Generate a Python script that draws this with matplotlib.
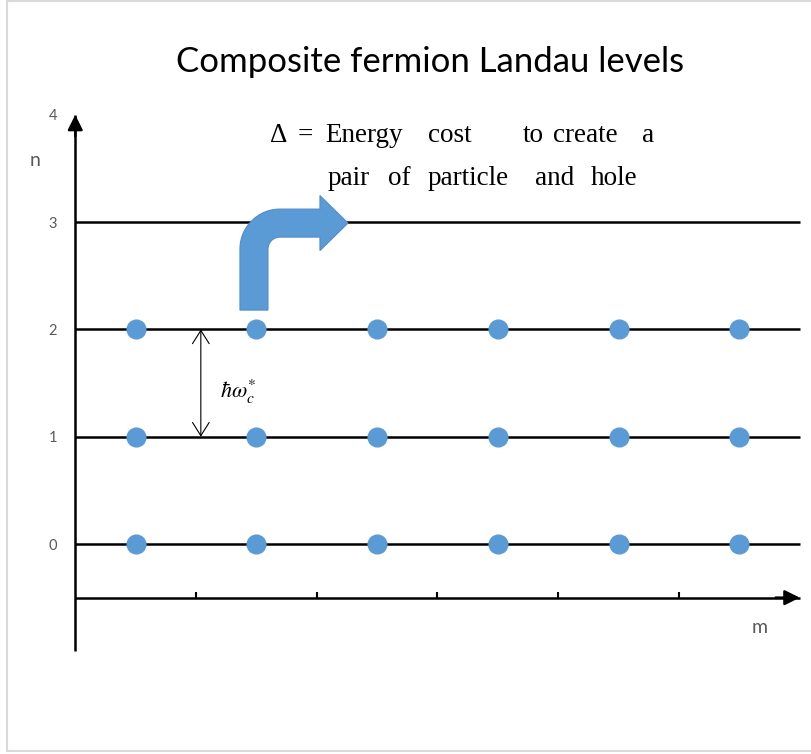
import matplotlib
matplotlib.use("Agg")
import matplotlib.pyplot as plt
from matplotlib.path import Path
from matplotlib.patches import PathPatch
from matplotlib.lines import Line2D
import matplotlib.transforms as mtransforms

# data
levels = [0, 1, 2, 3]
filled_levels = [0, 1, 2]
m_states = [0.5, 1.5, 2.5, 3.5, 4.5, 5.5]
m_ticks = [1, 2, 3, 4, 5]
n_ticks = [0, 1, 2, 3, 4]
n_tick_labels = ['0', '1', '2', '3', '4']
gap_m = 1.04
title = 'Composite fermion Landau levels'
note_1 = ['\u0394', '=', 'Energy', 'cost', 'to', 'create', 'a']
note_1_m = [1.61, 1.845, 2.07, 2.92, 3.71, 3.955, 4.69]
note_2 = ['pair', 'of', 'particle', 'and', 'hole']
note_2_m = [2.09, 2.59, 2.92, 3.81, 4.27]

dot_color = '#5b9bd5'
label_color = '#595959'

fig = plt.figure(figsize=(8.12, 7.54), dpi=100, facecolor='white')
ax = fig.add_axes([0, 0, 1, 1])
ax.patch.set_visible(False)
ax.set_xlim(-75.25 / 120.75, (812 - 75.25) / 120.75)
ax.set_ylim((544 - 754) / 107.3, 544 / 107.3)

# axes as spines through the data origin
for side in ['top', 'right']:
    ax.spines[side].set_visible(False)
ax.spines['left'].set_position(('data', 0))
ax.spines['left'].set_bounds(-1, 4)
ax.spines['bottom'].set_position(('data', -0.5))
ax.spines['bottom'].set_bounds(0, 6)
for side in ['left', 'bottom']:
    ax.spines[side].set_linewidth(1.8)
    ax.spines[side].set_capstyle('butt')

ax.set_yticks(n_ticks)
ax.set_yticklabels(n_tick_labels, family='Lato', fontsize=10.5, color=label_color)
ax.tick_params(axis='y', length=0, pad=13)
ax.set_xticks(m_ticks)
ax.set_xticklabels([])
ax.tick_params(axis='x', direction='in', length=4, width=1.5, color='black')

# arrow heads on the axes
head = dict(arrowstyle='-|>,head_length=0.6,head_width=0.3', color='black',
            lw=1.8, shrinkA=0, shrinkB=0, mutation_scale=15)
ax.annotate('', xy=(0, 4), xytext=(0, 3.8), arrowprops=head)
ax.annotate('', xy=(6, -0.5), xytext=(5.8, -0.5), arrowprops=head)

# Landau levels and filled states
ax.hlines(levels, 0, 6, color='black', lw=1.8, zorder=2)
for lv in filled_levels:
    ax.plot(m_states, [lv] * len(m_states), 'o', ms=13.5, color=dot_color,
            mec=dot_color, zorder=4)

# cyclotron gap
ax.annotate('', xy=(gap_m, 2), xytext=(gap_m, 1),
            arrowprops=dict(arrowstyle='<->,head_length=0.95,head_width=0.6',
                            lw=0.8, color='black', shrinkA=0, shrinkB=0,
                            mutation_scale=10))
ax.text(gap_m + 0.16, 1.36, r'$\hbar\omega_c^{*}$', fontsize=16,
        math_fontfamily='stix', ha='left', va='baseline')

# bent arrow, drawn in pixel offsets from the shaft foot
k = 0.5523
w, R, r = 14, 40, 12
cx, cy = 26, 61
verts = [(-w, 0), (-w, cy),
         (-w, cy + k * R), (cx - k * R, cy + R), (cx, cy + R),
         (66, cy + R), (66, 114.5), (94, 87), (66, 59.5), (66, cy + r),
         (cx, cy + r),
         (cx - k * r, cy + r), (w, cy + k * r), (w, cy),
         (w, 0), (-w, 0)]
codes = [Path.MOVETO, Path.LINETO,
         Path.CURVE4, Path.CURVE4, Path.CURVE4,
         Path.LINETO, Path.LINETO, Path.LINETO, Path.LINETO, Path.LINETO,
         Path.LINETO,
         Path.CURVE4, Path.CURVE4, Path.CURVE4,
         Path.LINETO, Path.CLOSEPOLY]
arrow_tr = (mtransforms.Affine2D().scale(1 / 100) + fig.dpi_scale_trans
            + mtransforms.ScaledTranslation(1.48, 2.18, ax.transData))
ax.add_patch(PathPatch(Path(verts, codes), facecolor=dot_color,
                       edgecolor='#4f8cc9', lw=0.8, transform=arrow_tr, zorder=5))

# annotation, word by word as in the source drawing
serif = ['Liberation Serif', 'DejaVu Serif']
for word, xm in zip(note_1, note_1_m):
    ax.text(xm, 3.75, word, family=serif, fontsize=19.5, ha='left', va='baseline')
for word, xm in zip(note_2, note_2_m):
    ax.text(xm, 3.35, word, family=serif, fontsize=19.5, ha='left', va='baseline')

ax.text(-0.333, 3.57, 'n', family='Lato', fontsize=14, color=label_color,
        ha='center', va='center')
ax.text(5.671, -0.774, 'm', family='Lato', fontsize=14, color=label_color,
        ha='center', va='center')

fig.text(430 / 812, 1 - 72 / 754, title, family='Lato', fontsize=25,
         color='black', ha='center', va='baseline')

# light frame
frame = dict(color='#d9d9d9', lw=1.5, transform=fig.transFigure)
fig.add_artist(Line2D([7 / 812, 7 / 812], [1 - 1 / 754, 1 - 751 / 754], **frame))
fig.add_artist(Line2D([7 / 812, 1], [1 - 751 / 754, 1 - 751 / 754], **frame))
fig.add_artist(Line2D([7 / 812, 1], [1 - 1 / 754, 1 - 1 / 754], **frame))

fig.savefig('out.png', dpi=100)
